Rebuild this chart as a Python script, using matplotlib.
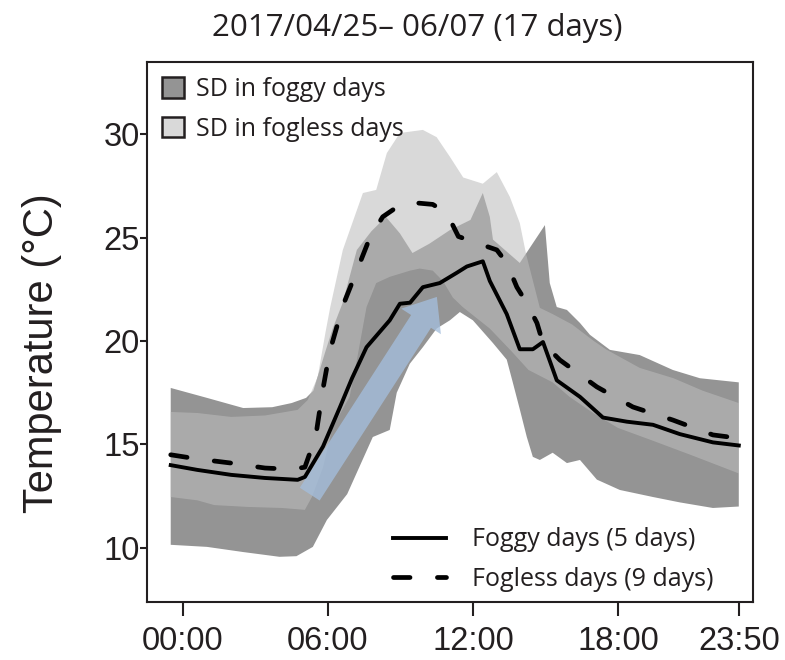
import numpy as np
import matplotlib.pyplot as plt
from matplotlib.patches import Patch, FancyArrowPatch
from matplotlib.lines import Line2D

plt.rcParams['font.family'] = 'Liberation Sans'
INK = '#231f20'

# hourly axis (h); bands are mean +/- SD for each group
fog_mean_t = [-0.5, 0.6, 2.0, 3.4, 4.75, 5.05, 5.8, 6.5, 7.0, 7.6, 8.56, 8.98, 9.4,
              9.93, 10.63, 11.34, 11.75, 12.41, 12.7, 13.4, 13.94, 14.48, 14.9, 15.47,
              16.43, 17.38, 18.37, 19.45, 20.56, 21.93, 23.0]
fog_mean = [14.0, 13.77, 13.53, 13.38, 13.29, 13.43, 14.9, 16.8, 18.2, 19.7, 21.0, 21.8, 21.85,
            22.6, 22.8, 23.3, 23.6, 23.85, 22.9, 21.3, 19.6, 19.6, 19.95, 18.1,
            17.3, 16.3, 16.1, 15.95, 15.5, 15.1, 14.95]

fogless_mean_t = [-0.5, 0.6, 2.0, 3.4, 4.5, 5.05, 5.5, 5.8, 6.08, 6.62, 7.2, 7.74, 8.27,
                  8.98, 9.68, 10.34, 10.92, 11.4, 12.0, 12.99, 13.4, 13.82, 14.23, 14.65,
                  14.9, 15.6, 17.13, 18.62, 20.27, 21.93, 23.0]
fogless_mean = [14.5, 14.3, 14.1, 13.86, 13.8, 13.9, 15.4, 17.7, 19.5, 21.7, 23.4, 25.0, 26.0,
                26.57, 26.67, 26.6, 26.18, 25.05, 24.8, 24.4, 23.77, 22.6, 21.83, 20.87,
                19.9, 19.08, 17.78, 16.81, 16.18, 15.46, 15.3]

fog_hi_t = [-0.5, 1.0, 2.5, 3.7, 4.5, 5.1, 5.4, 5.9, 6.2, 6.6, 7.2, 7.8, 8.4, 8.98, 9.5,
            10.2, 11.05, 11.9, 12.41, 12.7, 12.83, 13.94, 14.98, 15.18, 15.47, 15.89,
            16.43, 16.84, 17.67, 18.9, 20.27, 21.39, 23.0]
fog_hi = [17.73, 17.25, 16.76, 16.8, 17.0, 17.25, 17.6, 19.5, 20.6, 21.8, 24.4, 25.3, 26.0,
          25.2, 24.25, 24.7, 25.36, 25.85, 27.15, 26.0, 24.9, 23.77, 25.6, 22.8, 21.64, 21.5,
          20.87, 20.3, 19.57, 19.32, 18.6, 18.2, 18.0]

fog_lo_t = [-0.5, 1.0, 2.5, 4.0, 4.7, 5.38, 5.96, 6.8, 7.86, 8.56, 8.85, 9.39, 9.93, 10.5,
            11.05, 11.46, 12.0, 12.83, 13.4, 13.65, 13.94, 14.23, 14.48, 14.77, 15.3, 15.89,
            16.43, 17.13, 18.08, 19.45, 20.56, 21.93, 23.0]
fog_lo = [10.15, 10.05, 9.8, 9.57, 9.6, 10.05, 11.35, 12.6, 15.36, 15.7, 17.5, 18.9, 19.7,
          20.6, 21.0, 21.4, 21.0, 19.9, 19.1, 18.0, 16.7, 15.36, 14.4, 14.25, 14.6, 14.1,
          14.25, 13.3, 12.8, 12.46, 12.2, 11.93, 12.0]

fl_hi_t = [-0.5, 0.6, 2.0, 3.4, 4.75, 5.17, 5.58, 5.9, 6.1, 6.62, 7.45, 8.0, 8.44, 8.98,
           9.93, 10.5, 11.05, 11.6, 12.41, 12.99, 13.53, 13.94, 14.2, 14.77, 15.3, 16.1,
           17.0, 17.5, 18.9, 20.3, 21.5, 23.0]
fl_hi = [16.57, 16.52, 16.33, 16.4, 16.67, 17.15, 18.26, 20.4, 21.64, 24.4, 27.15, 27.3,
         29.08, 30.05, 30.2, 29.85, 28.9, 27.9, 27.6, 28.16, 26.96, 25.7, 24.2, 21.6, 21.3,
         20.8, 20.0, 19.6, 18.7, 18.2, 17.6, 17.0]

fl_lo_t = [-0.5, 0.6, 1.3, 2.7, 4.1, 5.05, 5.34, 5.8, 6.2, 6.9, 7.2, 7.6, 8.0, 8.56, 9.4,
           9.8, 10.34, 10.76, 11.17, 11.58, 12.7, 13.6, 14.3, 15.3, 16.0, 17.0, 18.0, 19.4,
           21.0, 23.0]
fl_lo = [12.46, 12.3, 12.07, 11.98, 11.93, 11.84, 12.46, 13.9, 15.85, 17.3, 19.08, 21.64,
         22.8, 23.1, 23.4, 23.5, 23.4, 22.9, 22.1, 21.64, 20.6, 19.5, 18.6, 18.0, 17.3, 16.5,
         15.8, 15.2, 14.5, 13.6]

xticks = [0, 6, 12, 18, 23]
xticklabels = ['00:00', '06:00', '12:00', '18:00', '23:50']
yticks = [10, 15, 20, 25, 30]

# warming trend arrow (start, end)
arrow_from = (5.25, 12.6)
arrow_to = (10.51, 22.13)


def band(t_hi, hi, t_lo, lo):
    xs = np.concatenate([t_hi, t_lo[::-1]])
    ys = np.concatenate([hi, lo[::-1]])
    return xs, ys


fig = plt.figure(figsize=(7.85, 6.6), dpi=100)
ax = fig.add_axes([0.187, 0.088, 0.772, 0.818])

fx, fy = band(fog_hi_t, fog_hi, fog_lo_t, fog_lo)
ax.fill(fx, fy, color='#949494', lw=0, zorder=1)
gx, gy = band(fl_hi_t, fl_hi, fl_lo_t, fl_lo)
ax.fill(gx, gy, color='#bcbcbc', alpha=0.565, lw=0, zorder=2)

arr = FancyArrowPatch(arrow_from, arrow_to,
                      arrowstyle='simple,head_length=21,head_width=34,tail_width=17',
                      mutation_scale=1, shrinkA=0, shrinkB=0,
                      fc='#a4bedc', ec='none', alpha=0.78, zorder=3)
ax.add_patch(arr)

ax.plot(fog_mean_t, fog_mean, color='k', lw=2.8, zorder=4)
ax.plot(fogless_mean_t, fogless_mean, color='k', lw=3.4,
        ls=(0, (3.5, 5.8)), dash_capstyle='round', zorder=4)

ax.set_xlim(-1.49, 23.58)
ax.set_ylim(7.39, 33.48)
ax.set_xticks(xticks)
ax.set_xticklabels(xticklabels)
ax.set_yticks(yticks)
for s in ax.spines.values():
    s.set_linewidth(1.5)
    s.set_color(INK)
ax.tick_params(axis='both', colors=INK, width=1.5, labelsize=23.5)
ax.tick_params(axis='x', length=10, pad=7)
ax.tick_params(axis='y', length=5, pad=0)

side_font = {'family': 'Open Sans', 'size': 18}
h1 = [Patch(fc='#949494', ec=INK, lw=1.8), Patch(fc='#d9d9d9', ec=INK, lw=1.8)]
leg1 = ax.legend(h1, ['SD in foggy days', 'SD in fogless days'], loc='upper left',
                 bbox_to_anchor=(0.0, 1.0), frameon=False, prop=side_font,
                 handlelength=0.9, handleheight=0.9, handletextpad=0.45,
                 labelspacing=0.58, borderpad=0.6, borderaxespad=0)
for t in leg1.get_texts():
    t.set_color(INK)
ax.add_artist(leg1)

h2 = [Line2D([], [], color='k', lw=2.8),
      Line2D([], [], color='k', lw=3.4, ls=(0, (3.5, 5.8)), dash_capstyle='round')]
leg2 = ax.legend(h2, ['Foggy days (5 days)', 'Fogless days (9 days)'], loc='lower left',
                 bbox_to_anchor=(0.39, 0.0), frameon=False, prop=side_font,
                 handlelength=2.1, handletextpad=1.05, labelspacing=0.58,
                 borderpad=0.4, borderaxespad=0)
for t in leg2.get_texts():
    t.set_color(INK)

fig.text(0.531, 0.958, '2017/04/25\u2013 06/07 (17 days)', ha='center', va='center',
         family='Open Sans', size=22.5, color=INK)
fig.text(0.053, 0.465, 'Temperature (\u00b0C)', rotation=90, ha='center', va='center',
         size=30, color=INK)

fig.savefig('out.png', dpi=100)
